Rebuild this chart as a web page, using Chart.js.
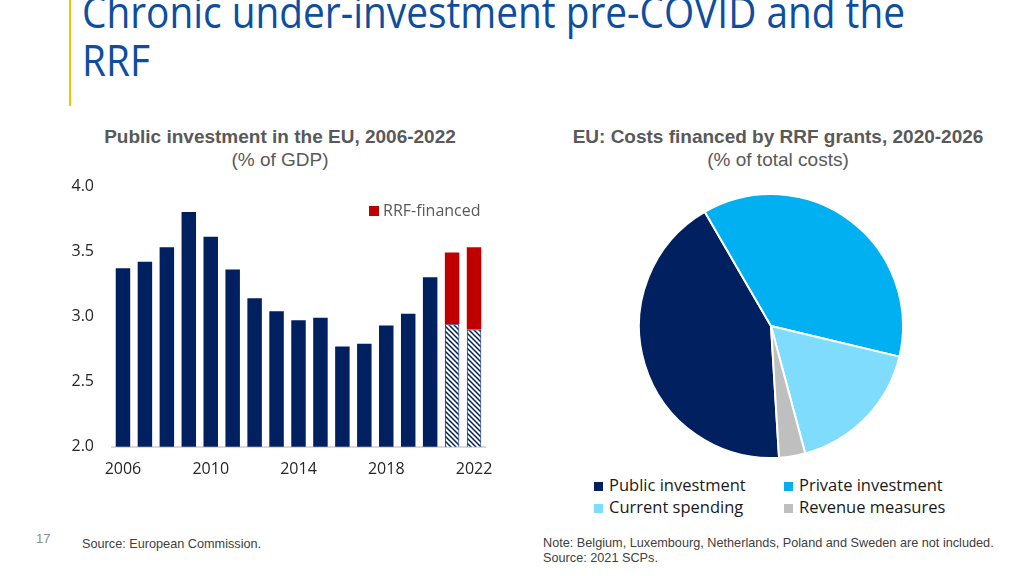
<!DOCTYPE html>
<html>
<head>
<meta charset="utf-8">
<script src="https://cdn.jsdelivr.net/npm/chart.js@4.4.1/dist/chart.umd.min.js"></script>
<style>
  html, body { margin: 0; padding: 0; background: #ffffff; }
  body { width: 1024px; height: 576px; position: relative; overflow: hidden; font-family: "Liberation Sans", Arial, sans-serif; }
  .accent { position: absolute; left: 69px; top: 0; width: 2px; height: 106px; background: #f2c200; }
  .title { position: absolute; left: 82px; top: -13px; font-family: "Open Sans", sans-serif; font-size: 44px; line-height: 48px; color: #0d4ea0; white-space: nowrap; transform-origin: 0 0; }
  .sub { position: absolute; text-align: center; color: #595959; font-size: 19px; line-height: 23px; }
  .sub b { font-weight: bold; }
  #barWrap { position: absolute; left: 60px; top: 161px; width: 440px; height: 323px; }
  #pieWrap { position: absolute; left: 638px; top: 193px; width: 266px; height: 266px; }
  .rrfLegend { position: absolute; left: 369px; top: 199px; font-family: "Open Sans", sans-serif; font-size: 16px; color: #595959; }
  .sq { display: inline-block; width: 10px; height: 10px; margin-right: 4px; vertical-align: 0; }
  .pieLegend { position: absolute; left: 594px; top: 473px; font-family: "Open Sans", sans-serif; font-size: 16.5px; color: #1a1a1a; }
  .pieLegend div { position: absolute; white-space: nowrap; }
  .foot { position: absolute; font-size: 12.7px; color: #404040; line-height: 15px; }
</style>
</head>
<body>
<div class="accent"></div>
<div class="title" id="title">Chronic under-investment pre-COVID and the<br>RRF</div>

<div class="sub" style="left:60px; width:440px; top:125px;"><b>Public investment in the EU, 2006-2022</b><br>(% of GDP)</div>
<div class="sub" style="left:530px; width:496px; top:125px;"><b>EU: Costs financed by RRF grants, 2020-2026</b><br>(% of total costs)</div>

<div id="barWrap"><canvas id="barChart"></canvas></div>
<div class="rrfLegend"><span class="sq" style="background:#c00000"></span>RRF-financed</div>

<div id="pieWrap"><canvas id="pieChart"></canvas></div>
<div class="pieLegend" id="pieLegend"></div>

<div class="foot" style="left:36px; top:531px; color:#8c8c8c; font-size:13px;">17</div>
<div class="foot" style="left:82px; top:537px;">Source: European Commission.</div>
<div class="foot" style="left:543px; top:536px;">Note: Belgium, Luxembourg, Netherlands, Poland and Sweden are not included.<br>Source: 2021 SCPs.</div>

<script>
const years = ["2006", "2007", "2008", "2009", "2010", "2011", "2012", "2013", "2014", "2015", "2016", "2017", "2018", "2019", "2020", "2021", "2022"];
const publicInvestment = [3.37, 3.42, 3.53, 3.80, 3.61, 3.36, 3.14, 3.04, 2.97, 2.99, 2.77, 2.79, 2.93, 3.02, 3.30, null, null];
const nationalPlanned = [null, null, null, null, null, null, null, null, null, null, null, null, null, null, null, 2.94, 2.90];
const rrfFinanced = [null, null, null, null, null, null, null, null, null, null, null, null, null, null, null, 0.55, 0.63];
const yTicks = [2.0, 2.5, 3.0, 3.5, 4.0];

const pieLabels = ["Public investment", "Private investment", "Current spending", "Revenue measures"];
const pieValues = [42.6, 37.1, 17.1, 3.2];

const navy = "#002060";
const red = "#c00000";
const pieColors = [navy, "#00b0f0", "#80dcfd", "#bfbfbf"];

// fit the title width to the reference
const titleEl = document.getElementById("title");
const w = titleEl.getBoundingClientRect().width;
titleEl.style.transform = "scaleX(" + (823 / w) + ")";

function makeHatch() {
  const c = document.createElement("canvas");
  c.width = 5;
  c.height = 5;
  const g = c.getContext("2d");
  g.fillStyle = "#ffffff";
  g.fillRect(0, 0, 5, 5);
  g.strokeStyle = navy;
  g.lineWidth = 1.5;
  g.beginPath();
  g.moveTo(-1, -1); g.lineTo(6, 6);
  g.moveTo(-1, 4); g.lineTo(1, 6);
  g.moveTo(4, -1); g.lineTo(6, 1);
  g.stroke();
  return g.createPattern(c, "repeat");
}

Chart.defaults.font.family = "\"Open Sans\", sans-serif";
Chart.defaults.animation = false;

const barPct = 0.66;

new Chart(document.getElementById("barChart"), {
  type: "bar",
  data: {
    labels: years,
    datasets: [
      {
        label: "Public investment",
        data: publicInvestment,
        backgroundColor: navy,
        barPercentage: barPct,
        categoryPercentage: 1
      },
      {
        label: "National",
        data: nationalPlanned,
        backgroundColor: makeHatch(),
        borderColor: navy,
        borderWidth: 1,
        barPercentage: barPct,
        categoryPercentage: 1
      },
      {
        label: "RRF-financed",
        data: rrfFinanced,
        backgroundColor: red,
        barPercentage: barPct,
        categoryPercentage: 1
      }
    ]
  },
  options: {
    responsive: true,
    maintainAspectRatio: false,
    layout: { padding: { top: 25, right: 15, bottom: 0, left: 0 } },
    plugins: {
      legend: { display: false },
      tooltip: { enabled: false }
    },
    scales: {
      x: {
        stacked: true,
        grid: { display: false },
        border: { display: true, color: "#d9d9d9", width: 2 },
        ticks: {
          color: "#262626",
          font: { size: 16 },
          autoSkip: false,
          maxRotation: 0,
          padding: 5,
          callback(value, index) {
            return index % 4 === 0 ? years[index] : "";
          }
        }
      },
      y: {
        stacked: true,
        min: 2,
        max: 4,
        afterFit(scale) { scale.width = 52; },
        afterBuildTicks(scale) { scale.ticks = yTicks.map((v) => ({ value: v })); },
        grid: { display: false },
        border: { display: false },
        ticks: {
          color: "#262626",
          font: { size: 16 },
          padding: 10,
          callback(value) { return Number(value).toFixed(1); }
        }
      }
    }
  }
});

new Chart(document.getElementById("pieChart"), {
  type: "pie",
  data: {
    labels: pieLabels,
    datasets: [{
      data: pieValues,
      backgroundColor: pieColors,
      borderColor: "#ffffff",
      borderWidth: 2
    }]
  },
  options: {
    responsive: true,
    maintainAspectRatio: false,
    rotation: 176.5,
    layout: { padding: 0 },
    plugins: {
      legend: { display: false },
      tooltip: { enabled: false }
    }
  }
});

const legendPos = [[0, 0], [190, 0], [0, 22], [190, 22]];
const legendEl = document.getElementById("pieLegend");
pieLabels.forEach((label, i) => {
  const item = document.createElement("div");
  item.style.left = legendPos[i][0] + "px";
  item.style.top = legendPos[i][1] + "px";
  item.innerHTML = "<span class=\"sq\" style=\"background:" + pieColors[i] + ";width:9px;height:9px;margin-right:6px\"></span>" + label;
  legendEl.appendChild(item);
});
</script>
</body>
</html>
